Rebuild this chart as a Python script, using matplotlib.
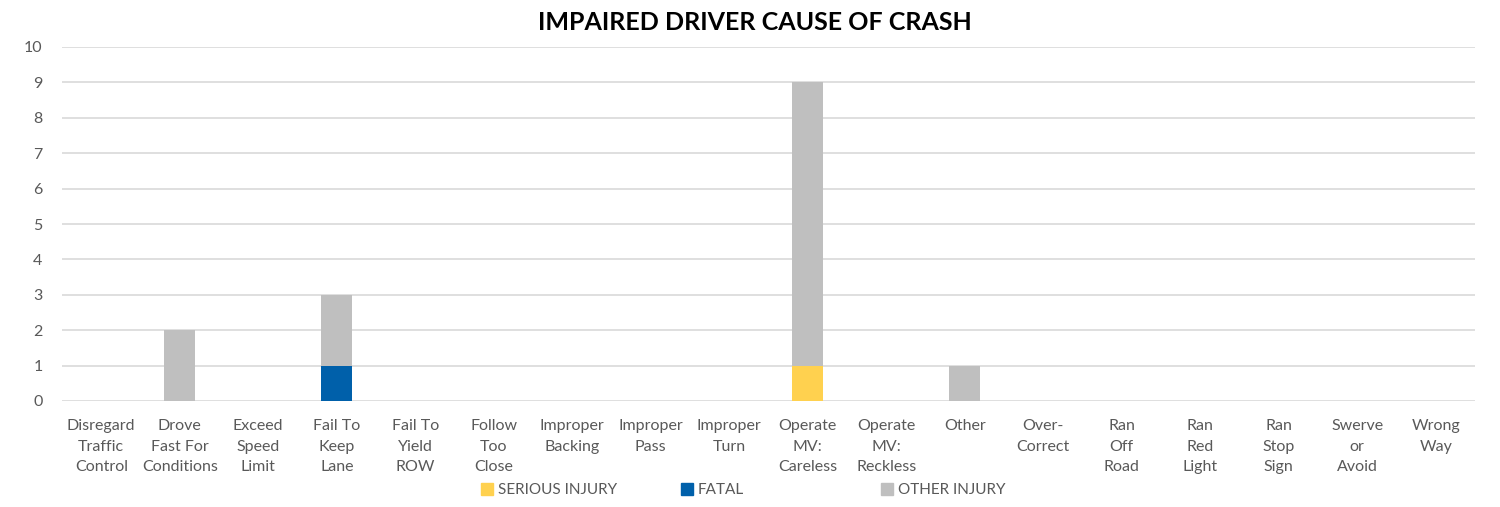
import matplotlib
matplotlib.use("Agg")
import matplotlib.pyplot as plt
import numpy as np
from matplotlib.patches import Patch

plt.rcParams['font.family'] = ['Lato', 'DejaVu Sans']

categories = ["Disregard\nTraffic\nControl", "Drove\nFast For\nConditions", "Exceed\nSpeed\nLimit",
              "Fail To\nKeep\nLane", "Fail To\nYield\nROW", "Follow\nToo\nClose",
              "Improper\nBacking", "Improper\nPass", "Improper\nTurn",
              "Operate\nMV:\nCareless", "Operate\nMV:\nReckless", "Other",
              "Over-\nCorrect", "Ran\nOff\nRoad", "Ran\nRed\nLight", "Ran\nStop\nSign",
              "Swerve\nor\nAvoid", "Wrong\nWay"]
serious = [0, 0, 0, 0, 0, 0, 0, 0, 0, 1, 0, 0, 0, 0, 0, 0, 0, 0]
fatal   = [0, 0, 0, 1, 0, 0, 0, 0, 0, 0, 0, 0, 0, 0, 0, 0, 0, 0]
other   = [0, 2, 0, 2, 0, 0, 0, 0, 0, 8, 0, 1, 0, 0, 0, 0, 0, 0]
series_names = ["SERIOUS INJURY", "FATAL", "OTHER INJURY"]
colors = ["#FFD14F", "#0060AA", "#BFBFBF"]

fig = plt.figure(figsize=(15, 5.07), dpi=100)
ax = fig.add_axes([62/1500, 1-401/507, (1475-62)/1500, (401-47)/507])

x = np.arange(len(categories))
s = np.array(serious); f = np.array(fatal); o = np.array(other)
w = 0.4
ax.bar(x, s, w, color=colors[0], zorder=3)
ax.bar(x, f, w, bottom=s, color=colors[1], zorder=3)
ax.bar(x, o, w, bottom=s+f, color=colors[2], zorder=3)

ax.set_xlim(-0.5, len(categories)-0.5)
ax.set_ylim(0, 10)
ax.set_yticks(range(0, 11))
ax.yaxis.grid(True, color="#D9D9D9", linewidth=1.2, zorder=0)
for sp in ax.spines.values():
    sp.set_visible(False)
ax.tick_params(axis='both', length=0, labelsize=11.5, colors="#595959")
ax.tick_params(axis='y', pad=14)
ax.set_xticks(x)
ax.set_xticklabels(categories, linespacing=1.6, va='top')
ax.tick_params(axis='x', pad=13)

fig.text(0.503, 1-23/507, "IMPAIRED DRIVER CAUSE OF CRASH", ha='center', va='center',
         fontsize=18, fontweight='bold', color='black')

xs = [481, 681, 881]
for xi, name, c in zip(xs, series_names, colors):
    leg = fig.legend(handles=[Patch(color=c)], labels=[name], loc='center left',
                     bbox_to_anchor=(xi/1500, 1-490/507), frameon=False, fontsize=11,
                     handlelength=0.8, handleheight=0.8, handletextpad=0.3, borderpad=0,
                     borderaxespad=0)
    for t in leg.get_texts():
        t.set_color("#595959")

fig.savefig("out.png", dpi=100, facecolor='white')
